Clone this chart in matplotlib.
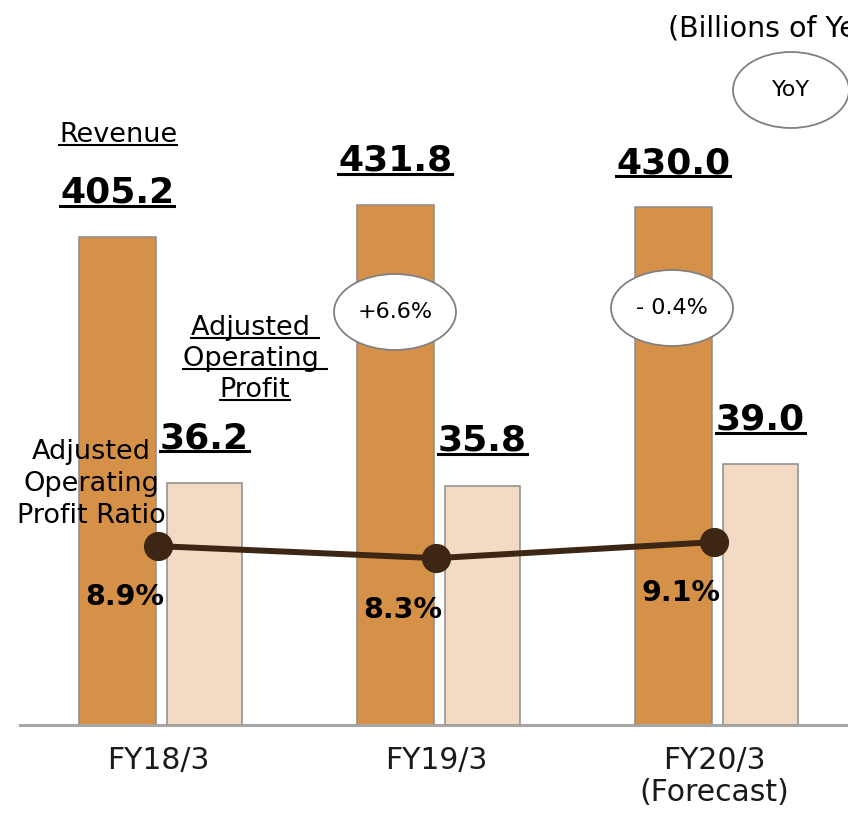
import numpy as np
import matplotlib.pyplot as plt
from matplotlib.patches import Ellipse
from matplotlib.lines import Line2D

years = ['FY18/3', 'FY19/3', 'FY20/3\n(Forecast)']
revenue = [405.2, 431.8, 430.0]
op_profit = [36.2, 35.8, 39.0]
op_ratio = [8.9, 8.3, 9.1]
yoy = ['', '+6.6%', '- 0.4%']

rev_color = '#d69149'
prof_color = '#f2dac4'
edge = '#8c8c8c'
line_color = '#3d2614'

W, H = 848, 813
fig = plt.figure(figsize=(W / 100, H / 100), dpi=100)
plt.rcParams['font.family'] = 'DejaVu Sans'

# main axes: bottom at pixel row 725, top at figure top
ax = fig.add_axes([0, (H - 725) / H, 1, 725 / H])
ax2 = ax.twinx()
ax3 = ax.twinx()

x = np.arange(len(years))
bw = 0.277
ax.bar(x - 0.146, revenue, bw, color=rev_color, edgecolor=edge, linewidth=1.1, zorder=2)
ax2.bar(x + 0.167, op_profit, bw * 0.97, color=prof_color, edgecolor=edge, linewidth=1.1, zorder=2)
ax3.plot(x, op_ratio, color=line_color, lw=4.3, marker='o', ms=20, zorder=3)

ax.set_xlim(-158 / 278, (W - 158) / 278)
ax.set_ylim(0, 725 / 1.2044)
ax2.set_ylim(0, 725 / 6.685)
ax3.set_ylim(0, 725 / 20.1)

for a in (ax, ax2, ax3):
    for s in a.spines.values():
        s.set_visible(False)
    a.set_yticks([])
ax.spines['bottom'].set_visible(True)
ax.spines['bottom'].set_color('#a6a6a6')
ax.spines['bottom'].set_linewidth(2.2)
ax.spines['bottom'].set_bounds((20 - 158) / 278, (W - 158) / 278)
ax.set_xticks(x)
ax.set_xticklabels(years, fontsize=21.5, color='#1a1a1a', linespacing=1.15)
ax.tick_params(axis='x', length=0, pad=15)

underlined = []
for i in x:
    t = ax.annotate(f'{revenue[i]:.1f}', (i - 0.146, revenue[i]), xytext=(0, 24.5),
                    textcoords='offset points', ha='center', va='baseline',
                    fontsize=26, fontweight='bold')
    underlined.append((t, 26, 2.2))
    t = ax2.annotate(f'{op_profit[i]:.1f}', (i + 0.167, op_profit[i]), xytext=(0, 25),
                     textcoords='offset points', ha='center', va='baseline',
                     fontsize=26, fontweight='bold')
    underlined.append((t, 26, 2.2))
    ax3.annotate(f'{op_ratio[i]:.1f}%', (i, op_ratio[i]), xytext=(-24, -37),
                 textcoords='offset points', ha='center', va='center',
                 fontsize=20.5, fontweight='bold')

# overlay in pixel coordinates for labels and bubbles
ov = fig.add_axes([0, 0, 1, 1])
ov.set_xlim(0, W)
ov.set_ylim(H, 0)
ov.axis('off')
ov.patch.set_visible(False)

t = ov.text(118, 142, 'Revenue', ha='center', va='baseline', fontsize=19.5)
underlined.append((t, 19.5, 1.5))
for s, yb in zip(['Adjusted ', 'Operating ', 'Profit'], [335, 366, 397]):
    t = ov.text(255, yb, s, ha='center', va='baseline', fontsize=19.5)
    underlined.append((t, 19.5, 1.5))
ov.text(91, 484, 'Adjusted\nOperating\nProfit Ratio', ha='center', va='center',
        fontsize=19.5, linespacing=1.32, multialignment='center')
ov.text(668, 28, '(Billions of Yen)', ha='left', va='center', fontsize=20.5)

ov.add_patch(Ellipse((791, 90), 116, 76, facecolor='white', edgecolor='#808080', lw=1.3))
ov.text(791, 90, 'YoY', ha='center', va='center', fontsize=16)
for cx, cy, s in zip([395, 672], [312, 308], yoy[1:]):
    ov.add_patch(Ellipse((cx, cy), 122, 76, facecolor='white', edgecolor='#808080', lw=1.3))
    ov.text(cx, cy, s, ha='center', va='center', fontsize=16)

# underlines drawn from rendered text extents
fig.canvas.draw()
r = fig.canvas.get_renderer()
for t, fs, lw in underlined:
    bb = t.get_window_extent(r)
    em = fs * 100 / 72
    base = bb.y0 + 0.236 * em
    yline = (base - 0.13 * em) / H
    fig.add_artist(Line2D([bb.x0 / W, bb.x1 / W], [yline, yline], color='black', lw=lw))

fig.savefig('out.png', dpi=100)
